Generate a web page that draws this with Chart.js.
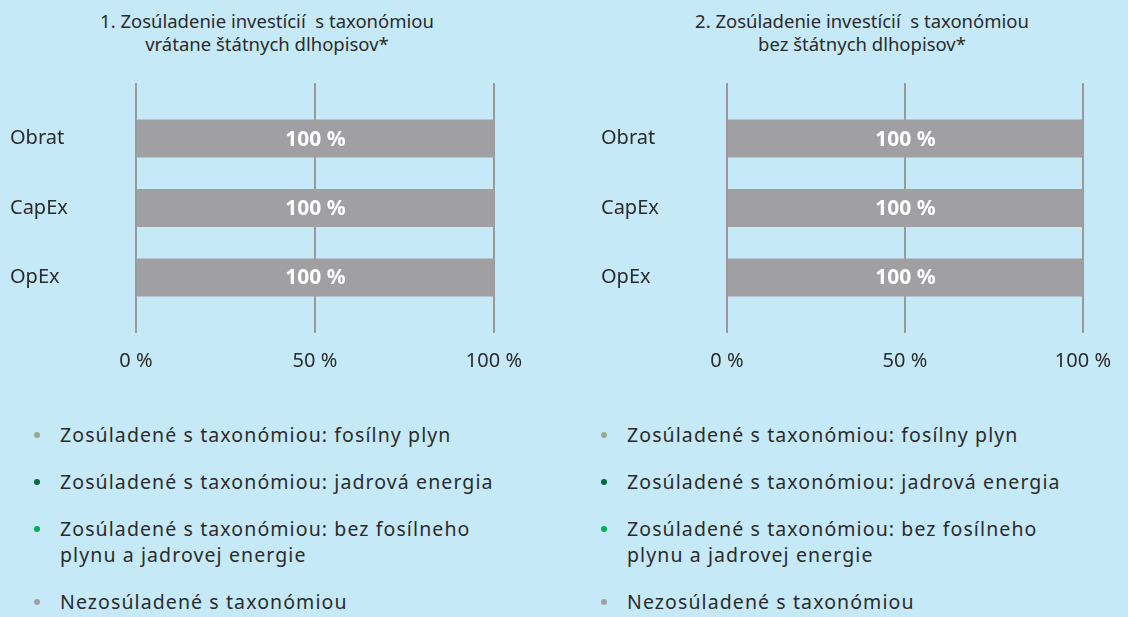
<!DOCTYPE html>
<html lang="sk">
<head>
<meta charset="utf-8">
<script src="https://cdn.jsdelivr.net/npm/chart.js@4"></script>
<style>
  html, body { margin: 0; padding: 0; }
  body {
    width: 1128px; height: 617px; overflow: hidden;
    background: #c6e9f8; position: relative;
    font-family: "Noto Sans", sans-serif; color: #2b2b2b;
  }
  .chart-box { position: absolute; top: 0; height: 380px; }
  #box1 { left: 0; width: 538px; }
  #box2 { left: 591px; width: 536px; }
  .chart-title {
    position: absolute; top: 9px; width: 500px; margin-left: -250px;
    text-align: center; font-size: 18.5px; line-height: 23px; white-space: pre;
  }
  #title1 { left: 267px; }
  #title2 { left: 862px; }
  .legend { position: absolute; top: 422px; margin: 0; padding: 0; list-style: none; font-size: 19.5px; letter-spacing: 1.1px; }
  .legend li { position: relative; padding-left: 23px; line-height: 26px; margin-bottom: 21px; white-space: nowrap; }
  .legend li::before {
    content: ''; position: absolute; left: -3px; top: 10px;
    width: 6px; height: 6px; border-radius: 50%; background: var(--c);
  }
  #legend1 { left: 37px; }
  #legend2 { left: 604px; }
</style>
</head>
<body>
<div class="chart-title" id="title1"></div>
<div class="chart-title" id="title2"></div>
<div class="chart-box" id="box1"><canvas id="chart1"></canvas></div>
<div class="chart-box" id="box2"><canvas id="chart2"></canvas></div>
<ul class="legend" id="legend1"></ul>
<ul class="legend" id="legend2"></ul>

<script>
// categories and values (share of investments, %)
const categories = ['Obrat', 'CapEx', 'OpEx'];
const seriesNames = [
  'Zosúladené s taxonómiou: fosílny plyn',
  'Zosúladené s taxonómiou: jadrová energia',
  'Zosúladené s taxonómiou: bez fosílneho plynu a jadrovej energie',
  'Nezosúladené s taxonómiou'
];
const legendLines = [
  ['Zosúladené s taxonómiou: fosílny plyn'],
  ['Zosúladené s taxonómiou: jadrová energia'],
  ['Zosúladené s taxonómiou: bez fosílneho', 'plynu a jadrovej energie'],
  ['Nezosúladené s taxonómiou']
];
const seriesColors = ['#98a98f', '#006b3c', '#00b050', '#a0a0a3'];

// chart 1: including sovereign bonds
const fossilGas1 = [0, 0, 0];
const nuclear1 = [0, 0, 0];
const otherAligned1 = [0, 0, 0];
const notAligned1 = [100, 100, 100];

// chart 2: excluding sovereign bonds
const fossilGas2 = [0, 0, 0];
const nuclear2 = [0, 0, 0];
const otherAligned2 = [0, 0, 0];
const notAligned2 = [100, 100, 100];

const xTicks = [0, 50, 100];

const title1 = ['1. Zosúladenie investícií  s taxonómiou', 'vrátane štátnych dlhopisov*'];
const title2 = ['2. Zosúladenie investícií  s taxonómiou', 'bez štátnych dlhopisov*'];

const FONT = '"Noto Sans", sans-serif';

// white bold value labels inside bars
const barLabels = {
  id: 'barLabels',
  afterDatasetsDraw(chart) {
    const ctx = chart.ctx;
    ctx.save();
    ctx.font = 'bold 21px ' + FONT;
    ctx.fillStyle = '#ffffff';
    ctx.textAlign = 'center';
    ctx.textBaseline = 'middle';
    chart.data.datasets.forEach((ds, i) => {
      const meta = chart.getDatasetMeta(i);
      meta.data.forEach((bar, j) => {
        const v = ds.data[j].x;
        if (v > 0) {
          const p = bar.getProps(['x', 'y', 'base']);
          ctx.fillText(v + ' %', (p.x + p.base) / 2, p.y + 1);
        }
      });
    });
    ctx.restore();
  }
};

function toPoints(values) {
  return values.map((v, i) => ({ x: v, y: i }));
}

function makeChart(id, series) {
  new Chart(document.getElementById(id), {
    type: 'bar',
    data: {
      datasets: series.map((vals, i) => ({
        label: seriesNames[i],
        data: toPoints(vals),
        backgroundColor: seriesColors[i],
        borderWidth: 0,
        inflateAmount: 0,
        barThickness: 38
      }))
    },
    options: {
      indexAxis: 'y',
      responsive: true,
      maintainAspectRatio: false,
      animation: false,
      layout: { padding: { left: 10, right: 40, top: 83, bottom: 0 } },
      plugins: {
        legend: { display: false },
        tooltip: { enabled: false },
        title: { display: false }
      },
      scales: {
        x: {
          type: 'linear',
          stacked: true,
          min: 0,
          max: 100,
          afterBuildTicks(s) { s.ticks = xTicks.map(v => ({ value: v })); },
          afterFit(s) { s.height = 47; },
          grid: { color: '#9a9a9a', lineWidth: 2, drawTicks: false },
          border: { display: false },
          ticks: {
            padding: 16,
            color: '#2b2b2b',
            font: { family: FONT, size: 20 },
            callback: v => v + ' %'
          }
        },
        y: {
          type: 'linear',
          stacked: true,
          reverse: true,
          offset: false,
          min: -0.8,
          max: 2.8,
          afterBuildTicks(s) { s.ticks = categories.map((c, i) => ({ value: i })); },
          afterFit(s) { s.width = 126; },
          grid: { display: false },
          border: { display: false },
          ticks: {
            crossAlign: 'far',
            color: '#2b2b2b',
            font: { family: FONT, size: 20 },
            callback: v => categories[v]
          }
        }
      }
    },
    plugins: [barLabels]
  });
}

makeChart('chart1', [fossilGas1, nuclear1, otherAligned1, notAligned1]);
makeChart('chart2', [fossilGas2, nuclear2, otherAligned2, notAligned2]);

document.getElementById('title1').textContent = title1.join('\n');
document.getElementById('title2').textContent = title2.join('\n');

function buildLegend(id) {
  const ul = document.getElementById(id);
  legendLines.forEach((lines, i) => {
    const li = document.createElement('li');
    li.style.setProperty('--c', seriesColors[i]);
    lines.forEach((t, k) => {
      if (k > 0) li.appendChild(document.createElement('br'));
      li.appendChild(document.createTextNode(t));
    });
    ul.appendChild(li);
  });
}
buildLegend('legend1');
buildLegend('legend2');
</script>
</body>
</html>
